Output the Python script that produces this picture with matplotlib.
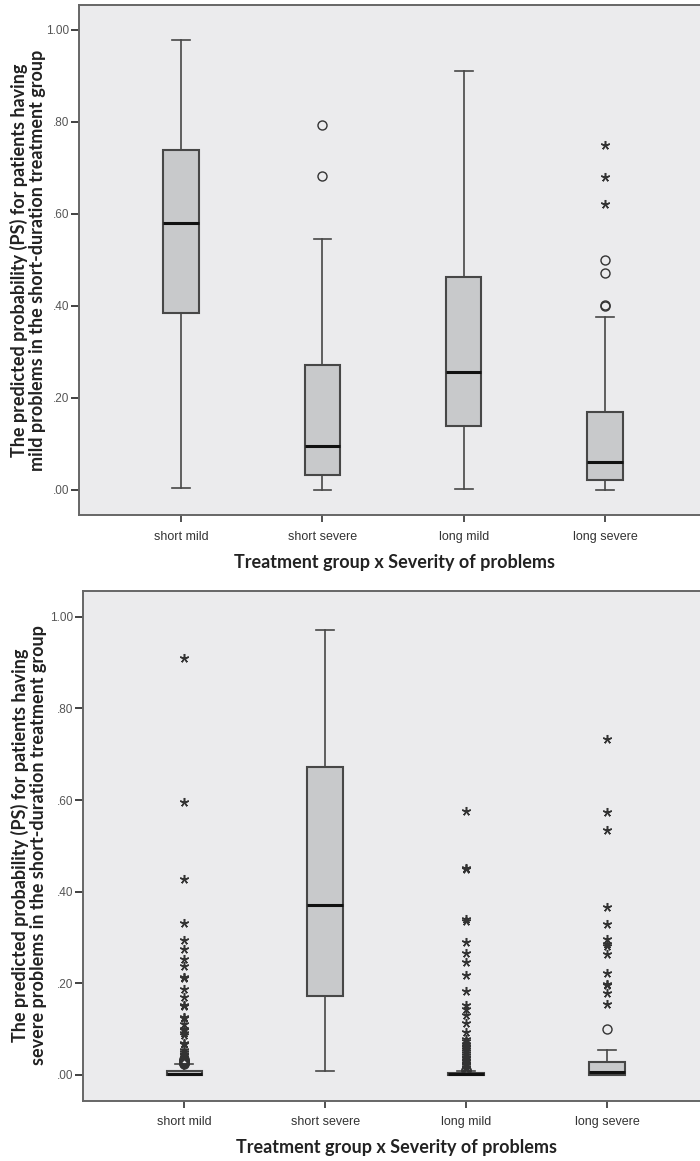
import matplotlib
matplotlib.use('Agg')
import matplotlib.pyplot as plt

groups = ['short mild', 'short severe', 'long mild', 'long severe']

# top panel: PS for mild problems
top_q1 = [0.383, 0.031, 0.138, 0.021]
top_med = [0.580, 0.094, 0.256, 0.059]
top_q3 = [0.738, 0.271, 0.462, 0.169]
top_lo = [0.003, 0.000, 0.001, 0.000]
top_hi = [0.977, 0.546, 0.910, 0.376]
top_circles = [[], [0.792, 0.682], [], [0.500, 0.472, 0.402, 0.399]]
top_stars = [[], [], [], [0.750, 0.679, 0.621]]

# bottom panel: PS for severe problems
bot_q1 = [0.000, 0.172, 0.000, 0.000]
bot_med = [0.002, 0.371, 0.001, 0.006]
bot_q3 = [0.009, 0.672, 0.003, 0.028]
bot_lo = [0.000, 0.008, 0.000, 0.000]
bot_hi = [0.023, 0.971, 0.009, 0.054]
bot_circles = [
    [0.035, 0.033, 0.031, 0.030, 0.029, 0.028, 0.027, 0.026, 0.025, 0.024],
    [],
    [0.011, 0.010],
    [0.100],
]
bot_stars = [
    [0.911, 0.595, 0.427, 0.331, 0.294, 0.274, 0.252, 0.237, 0.213, 0.211,
     0.187, 0.170, 0.153, 0.150, 0.126, 0.124, 0.110, 0.101, 0.098, 0.091,
     0.088, 0.070, 0.068, 0.054, 0.050, 0.046, 0.043, 0.040, 0.037],
    [],
    [0.577, 0.452, 0.449, 0.341, 0.335, 0.291, 0.266, 0.247, 0.219, 0.184,
     0.153, 0.143, 0.131, 0.114, 0.094, 0.078, 0.073, 0.068, 0.064, 0.060,
     0.056, 0.052, 0.048, 0.044, 0.040, 0.036, 0.033, 0.030, 0.027, 0.024,
     0.021, 0.018, 0.015, 0.013],
    [0.733, 0.574, 0.534, 0.367, 0.329, 0.296, 0.286, 0.281, 0.264, 0.223,
     0.198, 0.196, 0.178, 0.155],
]

yticks = [0.0, 0.2, 0.4, 0.6, 0.8, 1.0]
ytick_labels = ['.00', '.20', '.40', '.60', '.80', '1.00']

bg = '#ebebed'
box_fill = '#c8c9cb'
edge = '#474747'
light_font = ['Liberation Sans Narrow', 'Liberation Sans', 'DejaVu Sans']
bold_font = ['Lato', 'DejaVu Sans']

fig = plt.figure(figsize=(7, 11.61), dpi=100)
ax_top = fig.add_axes([0.1133, 0.5562, 0.8963, 0.4395])
ax_bot = fig.add_axes([0.1181, 0.0517, 0.8940, 0.4395])


def draw_panel(ax, q1, med, q3, lo, hi, circles, stars, ylim):
    stats = []
    for i in range(len(groups)):
        stats.append({'q1': q1[i], 'med': med[i], 'q3': q3[i],
                      'whislo': lo[i], 'whishi': hi[i], 'fliers': []})
    ax.bxp(stats, positions=range(len(groups)), widths=0.25, capwidths=0.125,
           patch_artist=True, showfliers=False,
           boxprops=dict(facecolor=box_fill, edgecolor=edge, linewidth=1.5),
           medianprops=dict(color='#111111', linewidth=2.2),
           whiskerprops=dict(color=edge, linewidth=1.2),
           capprops=dict(color=edge, linewidth=1.2))
    for i in range(len(groups)):
        if circles[i]:
            ax.plot([i] * len(circles[i]), circles[i], 'o', ms=6.5,
                    mfc='none', mec='#333333', mew=1.0)
        if stars[i]:
            ax.plot([i] * len(stars[i]), stars[i], marker=(5, 2, 0), ls='none',
                    ms=6.5, mec='#333333', mew=1.1)
    ax.set_facecolor(bg)
    ax.set_xlim(-0.72, 3.72)
    ax.set_ylim(*ylim)
    ax.set_yticks(yticks)
    ax.set_yticklabels(ytick_labels, family=light_font, fontsize=8.5, color='#555555')
    ax.set_xticks(range(len(groups)))
    ax.set_xticklabels(groups, family=light_font, fontsize=9, color='#333333')
    ax.tick_params(axis='y', length=6, width=1.3, color='#333333', pad=1)
    ax.tick_params(axis='x', length=5, width=1.2, color='#333333', pad=6)
    for side in ['left', 'bottom', 'top']:
        ax.spines[side].set_color('#666666')
        ax.spines[side].set_linewidth(1.4)
    ax.spines['right'].set_visible(False)


draw_panel(ax_top, top_q1, top_med, top_q3, top_lo, top_hi,
           top_circles, top_stars, (-0.056, 1.054))
draw_panel(ax_bot, bot_q1, bot_med, bot_q3, bot_lo, bot_hi,
           bot_circles, bot_stars, (-0.057, 1.057))

fig.text(28 / 700, 1 - 260 / 1161,
         'The predicted probability (PS) for patients having\n'
         'mild problems in the short-duration treatment group',
         rotation=90, ha='center', va='center', family=bold_font,
         fontweight='bold', fontsize=13, linespacing=1.08, color='#222222')
fig.text(29 / 700, 1 - 845 / 1161,
         'The predicted probability (PS) for patients having\n'
         'severe problems in the short-duration treatment group',
         rotation=90, ha='center', va='center', family=bold_font,
         fontweight='bold', fontsize=13, linespacing=1.08, color='#222222')
fig.text(395 / 700, 1 - 563 / 1161, 'Treatment group x Severity of problems',
         ha='center', va='center', family=bold_font, fontweight='bold',
         fontsize=13, color='#222222')
fig.text(397 / 700, 1 - 1148 / 1161, 'Treatment group x Severity of problems',
         ha='center', va='center', family=bold_font, fontweight='bold',
         fontsize=13, color='#222222')

fig.savefig('out.png', dpi=100, facecolor='white')
